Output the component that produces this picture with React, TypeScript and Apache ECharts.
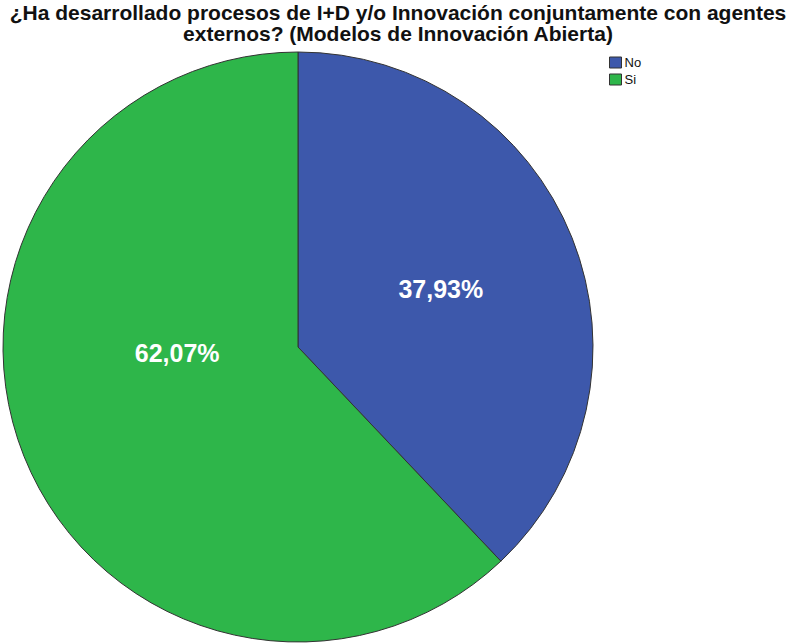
import React, { useEffect, useRef } from "react";
import * as echarts from "echarts";

const titleLines = [
  "¿Ha desarrollado procesos de I+D y/o Innovación conjuntamente con agentes",
  "externos? (Modelos de Innovación Abierta)",
];
const categories = ["No", "Si"];
const counts = [11, 18];
const colors = ["#3d58ab", "#2eb64a"];
const labelOffsets = [[3, -2], [19, -50]];

export default function App() {
  const ref = useRef<HTMLDivElement>(null);
  useEffect(() => {
    if (!ref.current) return;
    const chart = echarts.init(ref.current, undefined, { renderer: "svg" });
    chart.setOption({
      animation: false,
      backgroundColor: "#ffffff",
      title: {
        text: titleLines.join("\n"),
        left: "center",
        top: 0,
        padding: [2, 0, 0, 0],
        textStyle: {
          fontFamily: "Liberation Sans, Arial, sans-serif",
          fontWeight: "bold",
          fontSize: 21,
          lineHeight: 21,
          color: "#111111",
        },
      },
      legend: {
        orient: "vertical",
        left: 604,
        top: 51,
        itemWidth: 12,
        itemHeight: 11,
        itemGap: 4,
        icon: "rect",
        data: categories,
        textStyle: {
          fontFamily: "Liberation Sans, Arial, sans-serif",
          fontSize: 13,
          color: "#111",
          padding: [0, 0, 0, -2],
        },
        itemStyle: { borderColor: "#333", borderWidth: 1 },
      },
      series: [
        {
          type: "pie",
          center: [298, 347],
          radius: 295,
          startAngle: 90,
          clockwise: true,
          itemStyle: { borderColor: "#333333", borderWidth: 1 },
          emphasis: { disabled: true },
          label: {
            show: true,
            position: "inside",
            color: "#ffffff",
            fontFamily: "Liberation Sans, Arial, sans-serif",
            fontWeight: "bold",
            fontSize: 25,
            formatter: (p: any) => p.percent.toFixed(2).replace(".", ",") + "%",
          },
          labelLine: { show: false },
          data: categories.map((c, i) => ({
            name: c,
            value: counts[i],
            itemStyle: { color: colors[i] },
            label: { offset: labelOffsets[i] },
          })),
        },
      ],
    });
    return () => chart.dispose();
  }, []);
  return <div ref={ref} style={{ width: 796, height: 643, position: "absolute", left: 0, top: 0 }} />;
}
